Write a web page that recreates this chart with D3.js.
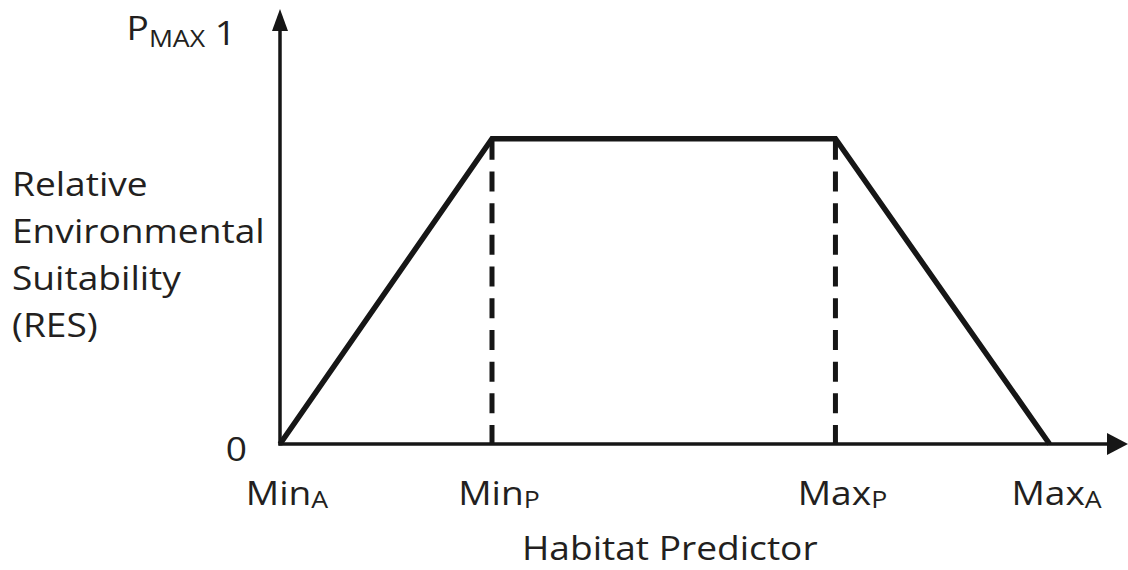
<!DOCTYPE html>
<html>
<head>
<meta charset="utf-8">
<script src="https://cdn.jsdelivr.net/npm/d3@7"></script>
<style>
    html, body { margin: 0; padding: 0; background: #fff; }
    text { font-family: "Open Sans", "Noto Sans", sans-serif; fill: #231f20; }
</style>
</head>
<body>
<div id="chart"></div>
<script>
// habitat predictor positions of the four breakpoints
const breakNames = ["MinA", "MinP", "MaxP", "MaxA"];
const breakMain = ["Min", "Min", "Max", "Max"];
const breakSub = ["A", "P", "P", "A"];
const breakX = [0, 1, 2.62, 3.63];
// relative environmental suitability at each breakpoint
const breakRES = [0, 0.75, 0.75, 0];
const yLabelLines = ["Relative", "Environmental", "Suitability", "(RES)"];

document.addEventListener("DOMContentLoaded", function() {
    const width = 1128,
        height = 570;

    const svg = d3.select("#chart")
        .append("svg")
        .attr("width", width)
        .attr("height", height);

    const x = d3.scaleLinear()
        .domain([0, 4])
        .range([280, 1128]);

    const y = d3.scaleLinear()
        .domain([0, 1])
        .range([444, 37]);

    const ink = "#161616";
    const sx = 1.16; // the source text is a little wide
    const fs = 32;

    // axes
    const yTop = 9;
    svg.append("line")
        .attr("x1", x(0)).attr("x2", x(0))
        .attr("y1", y(0) + 1.5).attr("y2", yTop + 15)
        .attr("stroke", ink).attr("stroke-width", 3.5);
    svg.append("path")
        .attr("d", `M${x(0)},${yTop} L${x(0) - 8},${yTop + 22} L${x(0) + 8},${yTop + 22} Z`)
        .attr("fill", ink);

    svg.append("line")
        .attr("x1", x(0) - 1.5).attr("x2", width - 15)
        .attr("y1", y(0)).attr("y2", y(0))
        .attr("stroke", ink).attr("stroke-width", 3.5);
    svg.append("path")
        .attr("d", `M${width},${y(0)} L${width - 21},${y(0) - 11} L${width - 21},${y(0) + 11} Z`)
        .attr("fill", ink);

    // dashed guides at the optimum range
    svg.append("g")
        .selectAll("line")
        .data(breakX.slice(1, 3))
        .enter()
        .append("line")
        .attr("x1", d => x(d)).attr("x2", d => x(d))
        .attr("y1", y(0.75) + 1).attr("y2", y(0))
        .attr("stroke", ink)
        .attr("stroke-width", 5)
        .attr("stroke-dasharray", "20,11.7");

    // trapezoid response
    const line = d3.line()
        .x((d, i) => x(breakX[i]))
        .y(d => y(d));
    svg.append("path")
        .attr("d", line(breakRES))
        .attr("fill", "none")
        .attr("stroke", ink)
        .attr("stroke-width", 5.5)
        .attr("stroke-linejoin", "miter");

    function stretched(px, py, anchor) {
        return svg.append("g")
            .attr("transform", `translate(${px},${py}) scale(${sx},1)`)
            .append("text")
            .attr("text-anchor", anchor)
            .style("font-size", fs + "px");
    }

    // y-axis labels
    const pm = stretched(236, 40, "end");
    pm.append("tspan").text("P");
    pm.append("tspan").attr("dy", 7).style("font-size", "23px").text("MAX");
    pm.append("tspan").attr("dy", -2).text(" 1");

    stretched(247, 461, "end").text("0");

    yLabelLines.forEach((t, i) => {
        stretched(12, 196 + i * 47, "start").text(t);
    });

    // x-axis breakpoint labels
    breakNames.forEach((n, i) => {
        const t = stretched(x(breakX[i]) + 7, 505, "middle");
        t.append("tspan").text(breakMain[i]);
        t.append("tspan").attr("dy", 3).style("font-size", "23px").text(breakSub[i]);
    });

    stretched((x(0) + x(breakX[3])) / 2 + 5, 560, "middle").text("Habitat Predictor");
});
</script>
</body>
</html>
